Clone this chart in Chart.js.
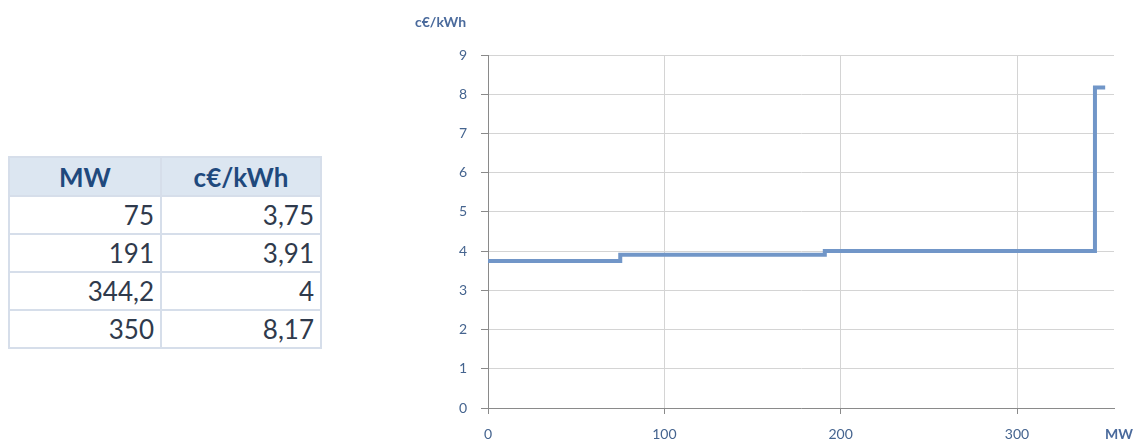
<!DOCTYPE html>
<html>
<head>
<meta charset="utf-8">
<script src="https://cdn.jsdelivr.net/npm/chart.js@4.4.1/dist/chart.umd.min.js"></script>
<style>
  html, body { margin: 0; padding: 0; background: #fff; width: 1147px; height: 441px; overflow: hidden; }
  #supply {
    position: absolute; left: 8px; top: 156px;
    border-collapse: collapse;
    font-family: Lato, "Open Sans", "Liberation Sans", sans-serif;
    font-size: 26px; color: #2f3a4c;
  }
  #supply th, #supply td { border: 2px solid #d6deea; padding: 0 6px; line-height: 1; }
  #supply th { background: #dce6f1; color: #1f497d; font-weight: 700; text-align: center; height: 37px; }
  #supply td { text-align: right; height: 36px; }
  #supply col.mw { width: 152px; }
  #supply col.price { width: 160px; }
  #chartBox { position: absolute; left: 400px; top: 0; width: 747px; height: 441px; }
</style>
</head>
<body>
<table id="supply">
  <colgroup><col class="mw"><col class="price"></colgroup>
  <thead><tr><th>MW</th><th>c€/kWh</th></tr></thead>
  <tbody></tbody>
</table>
<div id="chartBox"><canvas id="curve"></canvas></div>
<script>
// Cumulative capacity (MW) and the price of each block (c€/kWh)
const capacityMW = [75, 191, 344.2, 350];
const priceCents = [3.75, 3.91, 4, 8.17];
const capacityLabels = ['75', '191', '344,2', '350'];
const priceLabels = ['3,75', '3,91', '4', '8,17'];

// Axis ticks
const xTicks = [0, 100, 200, 300];
const yTicks = [0, 1, 2, 3, 4, 5, 6, 7, 8, 9];
const xMax = 355;
const yMax = 9;

// Fill the table
const tbody = document.querySelector('#supply tbody');
capacityLabels.forEach((mw, i) => {
  const tr = document.createElement('tr');
  const a = document.createElement('td'); a.textContent = mw;
  const b = document.createElement('td'); b.textContent = priceLabels[i];
  tr.appendChild(a); tr.appendChild(b); tbody.appendChild(tr);
});

// Step curve: each block's price holds up to its cumulative capacity,
// so the line rises at the previous block's end before running flat
const stepPoints = [{ x: 0, y: priceCents[0] }]
  .concat(capacityMW.map((mw, i) => ({ x: mw, y: priceCents[i] })));

const tickFont = { family: 'Lato, "Open Sans", sans-serif', size: 14 };
const tickColor = '#45648f';
const axisColor = '#8a8a8a';
const gridColor = '#d4d4d4';

const unitLabels = {
  id: 'unitLabels',
  afterDraw(chart) {
    const { ctx, chartArea } = chart;
    ctx.save();
    ctx.font = 'bold 14px Lato, "Open Sans", sans-serif';
    ctx.fillStyle = '#4a6a9c';
    ctx.textBaseline = 'middle';
    ctx.textAlign = 'left';
    ctx.fillText('c€/kWh', chartArea.left - 73, 22);
    ctx.fillText('MW', chartArea.right - 9, 434);
    ctx.restore();
  }
};

new Chart(document.getElementById('curve'), {
  type: 'line',
  data: {
    datasets: [{
      data: stepPoints,
      stepped: 'after',
      borderColor: '#7196c8',
      borderWidth: 4,
      borderCapStyle: 'butt',
      borderJoinStyle: 'miter',
      pointRadius: 0,
      fill: false
    }]
  },
  options: {
    responsive: true,
    maintainAspectRatio: false,
    animation: false,
    layout: { padding: { top: 55, right: 33, left: 0, bottom: 0 } },
    plugins: { legend: { display: false }, tooltip: { enabled: false } },
    scales: {
      x: {
        type: 'linear', min: 0, max: xMax,
        afterBuildTicks: s => { s.ticks = xTicks.map(v => ({ value: v })); },
        afterFit: s => { s.height = 33; },
        grid: { color: gridColor, tickColor: axisColor, tickLength: 6, lineWidth: 1 },
        border: { display: true, color: axisColor, width: 1 },
        ticks: { font: tickFont, color: tickColor, padding: 12, maxRotation: 0 }
      },
      y: {
        type: 'linear', min: 0, max: yMax,
        afterBuildTicks: s => { s.ticks = yTicks.map(v => ({ value: v })); },
        afterFit: s => { s.width = 88; },
        grid: { color: gridColor, tickColor: axisColor, tickLength: 7, lineWidth: 1 },
        border: { display: true, color: axisColor, width: 1 },
        ticks: { font: tickFont, color: tickColor, padding: 14 }
      }
    }
  },
  plugins: [unitLabels]
});
</script>
</body>
</html>
